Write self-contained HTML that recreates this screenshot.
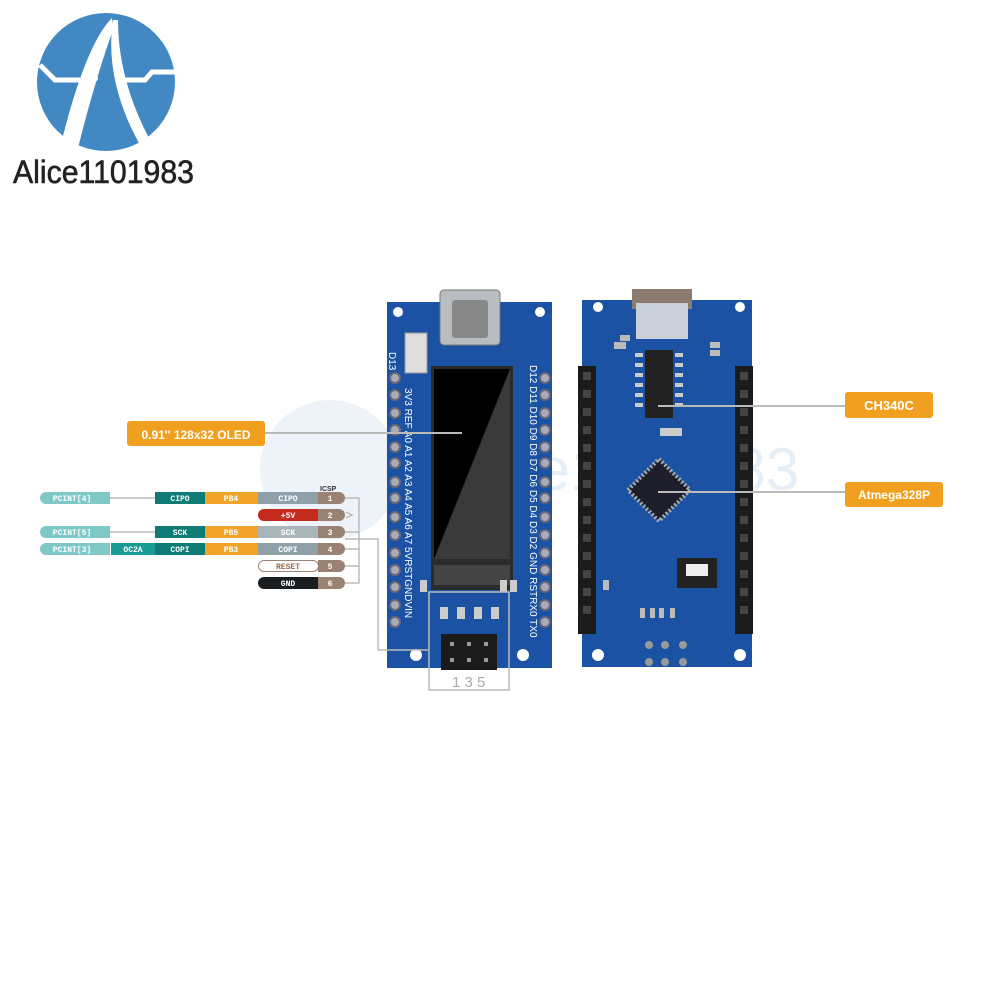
<!DOCTYPE html>
<html><head><meta charset="utf-8"><style>
body{margin:0;background:#fff;width:1000px;height:1000px;overflow:hidden;position:relative;font-family:"Liberation Sans",sans-serif}
</style></head><body>
<svg width="1000" height="1000" viewBox="0 0 1000 1000" xmlns="http://www.w3.org/2000/svg" style="position:absolute;left:0;top:0">
<!-- logo -->
<circle cx="106" cy="82" r="69" fill="#4289c4"/>
<path d="M40 65 L55 80 L80 80 M118 80 L145 80 L152 72 L175 72" stroke="#fff" stroke-width="5" fill="none"/>
<path d="M112 18 Q85 45 60 148 L78 148 Q95 80 113 30 Z" fill="#fff"/>
<path d="M113 20 Q104 80 140 145 L150 140 Q118 80 118 20 Z" fill="#fff"/>
<circle cx="94" cy="78" r="4" fill="#fff"/><circle cx="82" cy="88" r="4" fill="#fff"/>
<text x="13" y="183" font-size="32" fill="#222" stroke="#222" stroke-width="0.6" font-family="Liberation Sans" textLength="181" lengthAdjust="spacingAndGlyphs">Alice1101983</text>
<!-- watermark -->
<circle cx="330" cy="470" r="70" fill="#dbe8f4" opacity="0.5"/>
<text x="440" y="490" font-size="60" fill="#d6e6f3" opacity="0.6">Alice1101983</text>

<!-- LEFT BOARD -->
<rect x="387" y="302" width="165" height="366" fill="#1b52a3"/>
<rect x="440" y="290" width="60" height="55" rx="4" fill="#b9bcc0" stroke="#777"/>
<rect x="452" y="300" width="36" height="38" rx="3" fill="#888"/>
<rect x="405" y="333" width="22" height="40" fill="#ddd" stroke="#999"/>
<rect x="431" y="366" width="82" height="224" fill="#2b2b2b"/>
<rect x="434" y="369" width="76" height="190" fill="#000"/>
<polygon points="510,369 510,559 434,559" fill="#3a3a3a"/>
<rect x="434" y="565" width="76" height="20" fill="#444"/>
<circle cx="398" cy="312" r="5" fill="#fff"/><circle cx="540" cy="312" r="5" fill="#fff"/>
<circle cx="416" cy="655" r="6" fill="#fff"/><circle cx="523" cy="655" r="6" fill="#fff"/>
<rect x="441" y="634" width="56" height="36" fill="#1a1a1a"/>
<g fill="#999"><rect x="450" y="642" width="4" height="4"/><rect x="467" y="642" width="4" height="4"/><rect x="484" y="642" width="4" height="4"/><rect x="450" y="658" width="4" height="4"/><rect x="467" y="658" width="4" height="4"/><rect x="484" y="658" width="4" height="4"/></g>
<g fill="#ccc"><rect x="440" y="607" width="8" height="12"/><rect x="457" y="607" width="8" height="12"/><rect x="474" y="607" width="8" height="12"/><rect x="491" y="607" width="8" height="12"/>
<rect x="420" y="580" width="7" height="12"/><rect x="500" y="580" width="7" height="12"/><rect x="510" y="580" width="7" height="12"/></g>
<g fill="#aab" stroke="#667" stroke-width="2">
<circle cx="395" cy="378" r="5"/><circle cx="395" cy="395" r="5"/><circle cx="395" cy="413" r="5"/><circle cx="395" cy="430" r="5"/><circle cx="395" cy="447" r="5"/><circle cx="395" cy="463" r="5"/><circle cx="395" cy="482" r="5"/><circle cx="395" cy="498" r="5"/><circle cx="395" cy="517" r="5"/><circle cx="395" cy="535" r="5"/><circle cx="395" cy="553" r="5"/><circle cx="395" cy="570" r="5"/><circle cx="395" cy="587" r="5"/><circle cx="395" cy="605" r="5"/><circle cx="395" cy="622" r="5"/>
<circle cx="545" cy="378" r="5"/><circle cx="545" cy="395" r="5"/><circle cx="545" cy="413" r="5"/><circle cx="545" cy="430" r="5"/><circle cx="545" cy="447" r="5"/><circle cx="545" cy="463" r="5"/><circle cx="545" cy="482" r="5"/><circle cx="545" cy="498" r="5"/><circle cx="545" cy="517" r="5"/><circle cx="545" cy="535" r="5"/><circle cx="545" cy="553" r="5"/><circle cx="545" cy="570" r="5"/><circle cx="545" cy="587" r="5"/><circle cx="545" cy="605" r="5"/><circle cx="545" cy="622" r="5"/>
</g>
<g fill="#fff" font-size="10">
<text transform="translate(389,352) rotate(90)">D13</text>
<text transform="translate(405,388) rotate(90)">3V3 REF A0  A1  A2  A3  A4  A5  A6  A7 5VRSTGNDVIN</text>
<text transform="translate(530,365) rotate(90)">D12 D11 D10 D9  D8  D7  D6  D5  D4  D3  D2 GND RSTRX0 TX0</text>
</g>
<g fill="none" stroke="#bbb" stroke-width="1.5">
<rect x="429" y="592" width="80" height="98"/>
</g>
<text x="452" y="687" font-size="15" fill="#aaa">1 3 5</text>

<!-- RIGHT BOARD -->
<rect x="582" y="300" width="170" height="367" fill="#1b52a3"/>
<rect x="632" y="289" width="60" height="20" fill="#8a7a70"/>
<rect x="636" y="303" width="52" height="36" fill="#c9cfd6"/>
<circle cx="598" cy="307" r="5" fill="#fff"/><circle cx="740" cy="307" r="5" fill="#fff"/>
<circle cx="598" cy="655" r="6" fill="#fff"/><circle cx="740" cy="655" r="6" fill="#fff"/>
<rect x="578" y="366" width="18" height="268" fill="#1b1b1b"/>
<rect x="735" y="366" width="18" height="268" fill="#1b1b1b"/>
<g fill="#444"><rect x="583" y="372" width="8" height="8"/><rect x="583" y="390" width="8" height="8"/><rect x="583" y="408" width="8" height="8"/><rect x="583" y="426" width="8" height="8"/><rect x="583" y="444" width="8" height="8"/><rect x="583" y="462" width="8" height="8"/><rect x="583" y="480" width="8" height="8"/><rect x="583" y="498" width="8" height="8"/><rect x="583" y="516" width="8" height="8"/><rect x="583" y="534" width="8" height="8"/><rect x="583" y="552" width="8" height="8"/><rect x="583" y="570" width="8" height="8"/><rect x="583" y="588" width="8" height="8"/><rect x="583" y="606" width="8" height="8"/>
<rect x="740" y="372" width="8" height="8"/><rect x="740" y="390" width="8" height="8"/><rect x="740" y="408" width="8" height="8"/><rect x="740" y="426" width="8" height="8"/><rect x="740" y="444" width="8" height="8"/><rect x="740" y="462" width="8" height="8"/><rect x="740" y="480" width="8" height="8"/><rect x="740" y="498" width="8" height="8"/><rect x="740" y="516" width="8" height="8"/><rect x="740" y="534" width="8" height="8"/><rect x="740" y="552" width="8" height="8"/><rect x="740" y="570" width="8" height="8"/><rect x="740" y="588" width="8" height="8"/><rect x="740" y="606" width="8" height="8"/></g>
<rect x="645" y="350" width="28" height="68" fill="#222"/>
<g fill="#ccc"><rect x="635" y="353" width="8" height="4"/><rect x="635" y="363" width="8" height="4"/><rect x="635" y="373" width="8" height="4"/><rect x="635" y="383" width="8" height="4"/><rect x="635" y="393" width="8" height="4"/><rect x="635" y="403" width="8" height="4"/><rect x="675" y="353" width="8" height="4"/><rect x="675" y="363" width="8" height="4"/><rect x="675" y="373" width="8" height="4"/><rect x="675" y="383" width="8" height="4"/><rect x="675" y="393" width="8" height="4"/><rect x="675" y="403" width="8" height="4"/></g>
<rect x="637" y="468" width="44" height="44" fill="#1e1e2a" stroke="#aaa" stroke-width="4" stroke-dasharray="2 2" transform="rotate(45 659 490)"/>
<rect x="677" y="558" width="40" height="30" fill="#222"/>
<rect x="686" y="564" width="22" height="12" fill="#eee"/>
<rect x="660" y="428" width="22" height="8" fill="#ccc"/>
<g fill="#bbb"><rect x="603" y="580" width="6" height="10"/><rect x="640" y="608" width="5" height="10"/><rect x="650" y="608" width="5" height="10"/><rect x="659" y="608" width="5" height="10"/><rect x="670" y="608" width="5" height="10"/><rect x="620" y="335" width="10" height="6"/><rect x="614" y="342" width="12" height="7"/><rect x="710" y="342" width="10" height="6"/><rect x="710" y="350" width="10" height="6"/></g>
<g fill="#999"><circle cx="649" cy="645" r="4"/><circle cx="665" cy="645" r="4"/><circle cx="683" cy="645" r="4"/><circle cx="649" cy="662" r="4"/><circle cx="665" cy="662" r="4"/><circle cx="683" cy="662" r="4"/></g>

<!-- callouts -->
<line x1="262" y1="433" x2="462" y2="433" stroke="#bbb" stroke-width="2"/>
<rect x="127" y="421" width="138" height="25" rx="3" fill="#f0a01e"/>
<text x="196" y="439" font-size="12" font-weight="bold" fill="#fff" text-anchor="middle">0.91'' 128x32 OLED</text>
<line x1="658" y1="406" x2="848" y2="406" stroke="#bbb" stroke-width="2"/>
<rect x="845" y="392" width="88" height="26" rx="3" fill="#f0a01e"/>
<text x="889" y="410" font-size="13" font-weight="bold" fill="#fff" text-anchor="middle">CH340C</text>
<line x1="658" y1="492" x2="848" y2="492" stroke="#bbb" stroke-width="2"/>
<rect x="845" y="482" width="98" height="25" rx="3" fill="#f0a01e"/>
<text x="894" y="499" font-size="12" font-weight="bold" fill="#fff" text-anchor="middle">Atmega328P</text>

<!-- ICSP table lines -->
<g stroke="#bbb" stroke-width="1.5" fill="none">
<path d="M110 498 H155 M110 532 H155"/>
<path d="M345 498 H359 V583 H345 M345 532 H359 M345 549 H359 M345 566 H359"/>
<path d="M345 539 H378 V650 H428"/>
<path d="M346 512 L352 515 L346 518"/>
</g>
<text x="320" y="491" font-size="7" font-weight="bold" fill="#333">ICSP</text>
<g font-family="Liberation Mono" font-size="8" font-weight="bold" text-anchor="middle">
<rect x="40" y="492" width="70" height="12" rx="6" fill="#7ec8c8"/><rect x="100" y="492" width="10" height="12" fill="#7ec8c8"/>
<text x="72" y="501" fill="#fff">PCINT[4]</text>
<rect x="155" y="492" width="50" height="12" fill="#0e7b76"/><text x="180" y="501" fill="#fff">CIPO</text>
<rect x="205" y="492" width="53" height="12" fill="#f2a329"/><text x="231" y="501" fill="#fff">PB4</text>
<rect x="258" y="492" width="60" height="12" fill="#8fa0a8"/><text x="288" y="501" fill="#fff">CIPO</text>
<rect x="318" y="492" width="27" height="12" rx="6" fill="#9a8272"/><rect x="318" y="492" width="10" height="12" fill="#9a8272"/><text x="330" y="501" fill="#fff">1</text>
<rect x="258" y="509" width="60" height="12" rx="6" fill="#c52a1e"/><rect x="300" y="509" width="18" height="12" fill="#c52a1e"/><text x="288" y="518" fill="#fff">+5V</text>
<rect x="318" y="509" width="27" height="12" rx="6" fill="#9a8272"/><rect x="318" y="509" width="10" height="12" fill="#9a8272"/><text x="330" y="518" fill="#fff">2</text>
<rect x="40" y="526" width="70" height="12" rx="6" fill="#7ec8c8"/><rect x="100" y="526" width="10" height="12" fill="#7ec8c8"/>
<text x="72" y="535" fill="#fff">PCINT[5]</text>
<rect x="155" y="526" width="50" height="12" fill="#0e7b76"/><text x="180" y="535" fill="#fff">SCK</text>
<rect x="205" y="526" width="53" height="12" fill="#f2a329"/><text x="231" y="535" fill="#fff">PB5</text>
<rect x="258" y="526" width="60" height="12" fill="#a8b6bc"/><text x="288" y="535" fill="#fff">SCK</text>
<rect x="318" y="526" width="27" height="12" rx="6" fill="#9a8272"/><rect x="318" y="526" width="10" height="12" fill="#9a8272"/><text x="330" y="535" fill="#fff">3</text>
<rect x="40" y="543" width="70" height="12" rx="6" fill="#7ec8c8"/><rect x="100" y="543" width="10" height="12" fill="#7ec8c8"/>
<text x="72" y="552" fill="#fff">PCINT[3]</text>
<rect x="111" y="543" width="44" height="12" fill="#1a9a95"/><text x="133" y="552" fill="#fff">OC2A</text>
<rect x="155" y="543" width="50" height="12" fill="#0e7b76"/><text x="180" y="552" fill="#fff">COPI</text>
<rect x="205" y="543" width="53" height="12" fill="#f2a329"/><text x="231" y="552" fill="#fff">PB3</text>
<rect x="258" y="543" width="60" height="12" fill="#8fa0a8"/><text x="288" y="552" fill="#fff">COPI</text>
<rect x="318" y="543" width="27" height="12" rx="6" fill="#9a8272"/><rect x="318" y="543" width="10" height="12" fill="#9a8272"/><text x="330" y="552" fill="#fff">4</text>
<rect x="258.5" y="560.5" width="60" height="11" rx="5.5" fill="#fff" stroke="#9a8272"/><text x="288" y="569" fill="#9a6a4a">RESET</text>
<rect x="318" y="560" width="27" height="12" rx="6" fill="#9a8272"/><rect x="318" y="560" width="10" height="12" fill="#9a8272"/><text x="330" y="569" fill="#fff">5</text>
<rect x="258" y="577" width="60" height="12" rx="6" fill="#1a1e20"/><rect x="300" y="577" width="18" height="12" fill="#1a1e20"/><text x="288" y="586" fill="#fff">GND</text>
<rect x="318" y="577" width="27" height="12" rx="6" fill="#9a8272"/><rect x="318" y="577" width="10" height="12" fill="#9a8272"/><text x="330" y="586" fill="#fff">6</text>
</g>
</svg>
</body></html>
